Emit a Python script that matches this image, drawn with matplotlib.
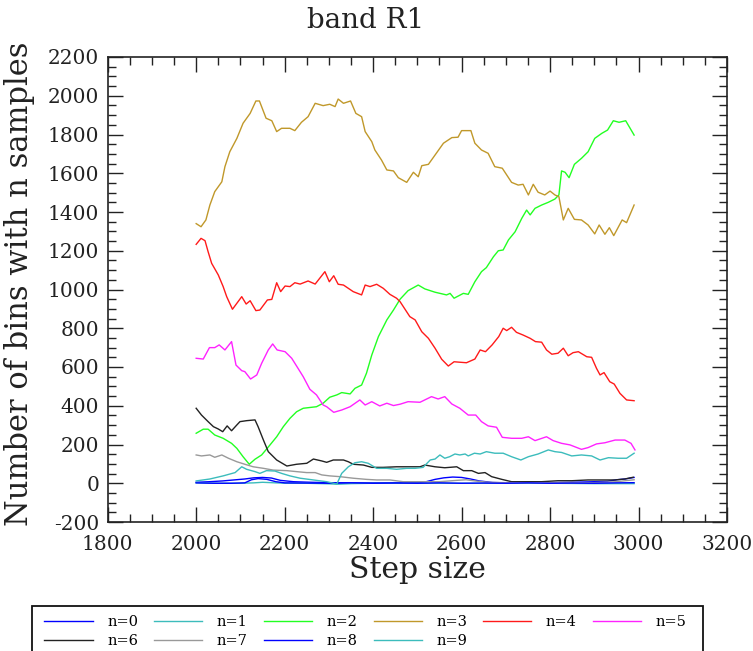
import matplotlib
matplotlib.use('Agg')
import matplotlib.pyplot as plt
from matplotlib.patches import Rectangle
from matplotlib.ticker import MultipleLocator

### Data

x_n0 = [2000, 2030, 2060, 2090, 2110, 2130, 2150, 2170, 2190, 2220, 2260, 2300, 2350, 2400, 2450,
        2500, 2520, 2540, 2560, 2580, 2600, 2620, 2640, 2670, 2700, 2750, 2800, 2850, 2900, 2930,
        2950, 2970, 2990]
y_n0 = [5, 8, 12, 18, 22, 28, 30, 27, 15, 8, 5, 3, 2, 2, 3,
        3, 8, 20, 28, 32, 30, 22, 12, 4, 2, 2, 3, 5, 8, 10,
        18, 22, 30]

x_n1 = [2000, 2050, 2100, 2130, 2150, 2170, 2200, 2250, 2300, 2320, 2350, 2400, 2450, 2500,
        2600, 2700, 2800, 2900, 2990]
y_n1 = [2, 0, 0, 2, 5, 3, 0, 0, -3, -5, -2, 0, 0, 0,
        0, 0, 0, -2, -2]

x_n2 = [2000, 2016, 2027, 2042, 2061, 2080, 2092, 2106, 2120, 2133, 2148, 2167, 2182, 2197, 2212,
        2227, 2242, 2272, 2287, 2302, 2318, 2329, 2348, 2359, 2374, 2385, 2397, 2412, 2431, 2446,
        2461, 2479, 2502, 2517, 2540, 2566, 2574, 2583, 2604, 2615, 2630, 2645, 2656, 2672, 2683,
        2694, 2706, 2721, 2736, 2747, 2755, 2766, 2781, 2796, 2811, 2820, 2826, 2834, 2843, 2855,
        2871, 2886, 2901, 2917, 2930, 2943, 2956, 2971, 2990]
y_n2 = [258, 279, 279, 249, 232, 206, 180, 137, 98, 124, 146, 198, 240, 292, 335,
        369, 387, 395, 413, 444, 456, 468, 461, 490, 507, 568, 662, 757, 843, 894,
        950, 994, 1023, 1003, 986, 972, 980, 955, 980, 975, 1040, 1092, 1113, 1169, 1200,
        1204, 1256, 1298, 1367, 1410, 1385, 1419, 1436, 1450, 1467, 1488, 1612, 1605, 1577, 1646,
        1677, 1711, 1780, 1806, 1823, 1871, 1863, 1871, 1797]

x_n3 = [2000, 2011, 2022, 2031, 2042, 2058, 2065, 2076, 2092, 2106, 2122, 2135, 2143, 2158, 2171,
        2182, 2193, 2212, 2223, 2238, 2253, 2269, 2287, 2302, 2314, 2321, 2333, 2349, 2361, 2374,
        2382, 2397, 2404, 2419, 2431, 2446, 2457, 2476, 2491, 2502, 2510, 2525, 2540, 2559, 2578,
        2592, 2600, 2621, 2630, 2645, 2660, 2675, 2692, 2713, 2728, 2739, 2751, 2762, 2773, 2788,
        2800, 2811, 2820, 2830, 2841, 2855, 2871, 2886, 2901, 2911, 2924, 2934, 2944, 2963, 2973,
        2990]
y_n3 = [1340, 1324, 1359, 1436, 1505, 1556, 1634, 1711, 1780, 1858, 1909, 1973, 1973, 1884, 1871,
        1815, 1832, 1832, 1820, 1863, 1892, 1961, 1949, 1956, 1944, 1983, 1961, 1973, 1909, 1892,
        1815, 1763, 1720, 1668, 1617, 1612, 1577, 1553, 1605, 1582, 1639, 1646, 1694, 1755, 1784,
        1786, 1820, 1820, 1755, 1720, 1703, 1634, 1626, 1553, 1539, 1543, 1488, 1543, 1502, 1488,
        1508, 1488, 1479, 1359, 1419, 1362, 1359, 1333, 1287, 1333, 1285, 1319, 1278, 1359, 1345,
        1436]

x_n4 = [2000, 2011, 2020, 2027, 2035, 2050, 2061, 2069, 2082, 2103, 2113, 2122, 2135, 2144, 2161,
        2171, 2182, 2191, 2201, 2212, 2223, 2235, 2253, 2269, 2291, 2301, 2311, 2321, 2333, 2355,
        2374, 2382, 2393, 2408, 2423, 2438, 2453, 2461, 2483, 2495, 2510, 2525, 2540, 2555, 2570,
        2583, 2611, 2630, 2642, 2654, 2669, 2684, 2694, 2702, 2713, 2724, 2739, 2755, 2767, 2781,
        2792, 2804, 2818, 2830, 2841, 2852, 2864, 2883, 2894, 2905, 2913, 2922, 2935, 2945, 2958,
        2973, 2990]
y_n4 = [1233, 1264, 1252, 1195, 1135, 1075, 1015, 963, 898, 963, 925, 942, 891, 894, 946,
        949, 1035, 989, 1018, 1015, 1035, 1028, 1044, 1028, 1092, 1040, 1071, 1027, 1023, 989,
        972, 1023, 1015, 1027, 1006, 975, 955, 937, 860, 843, 782, 748, 697, 640, 605,
        627, 622, 641, 688, 679, 714, 757, 800, 788, 805, 779, 765, 748, 731, 728,
        688, 666, 671, 697, 658, 674, 679, 653, 650, 593, 559, 571, 524, 512, 464,
        430, 426]

x_n5 = [2000, 2016, 2030, 2042, 2052, 2065, 2080, 2090, 2103, 2110, 2123, 2137, 2148, 2163, 2173,
        2183, 2201, 2216, 2227, 2242, 2257, 2272, 2287, 2295, 2311, 2329, 2348, 2370, 2382, 2397,
        2415, 2431, 2446, 2461, 2479, 2506, 2532, 2547, 2562, 2578, 2596, 2615, 2632, 2645, 2660,
        2679, 2692, 2713, 2736, 2751, 2766, 2792, 2807, 2826, 2845, 2871, 2886, 2905, 2924, 2947,
        2969, 2983, 2992]
y_n5 = [645, 641, 700, 700, 714, 688, 731, 610, 581, 576, 538, 559, 619, 688, 719,
        688, 679, 645, 605, 550, 485, 456, 404, 395, 366, 378, 395, 430, 404, 421,
        399, 413, 401, 408, 421, 418, 447, 435, 447, 409, 387, 352, 352, 318, 296,
        289, 237, 232, 232, 240, 220, 240, 220, 206, 198, 175, 184, 203, 209, 223,
        223, 206, 172]

x_n6 = [2000, 2012, 2027, 2039, 2050, 2060, 2070, 2080, 2092, 2099, 2114, 2133, 2140, 2152, 2163,
        2182, 2205, 2227, 2250, 2265, 2284, 2295, 2310, 2333, 2344, 2355, 2378, 2397, 2423, 2453,
        2483, 2506, 2517, 2540, 2562, 2589, 2604, 2623, 2638, 2653, 2668, 2691, 2713, 2736, 2781,
        2818, 2849, 2886, 2917, 2947, 2969, 2988]
y_n6 = [387, 352, 318, 292, 280, 266, 296, 271, 301, 318, 323, 327, 292, 223, 163,
        120, 89, 98, 103, 125, 115, 108, 120, 120, 111, 98, 94, 82, 82, 85,
        85, 85, 94, 85, 80, 85, 65, 65, 51, 55, 34, 20, 8, 8, 8,
        13, 13, 17, 17, 17, 22, 31]

x_n7 = [2000, 2012, 2031, 2042, 2058, 2073, 2092, 2110, 2129, 2152, 2174, 2205, 2227, 2250, 2269,
        2284, 2302, 2325, 2355, 2385, 2408, 2438, 2468, 2506, 2550, 2590, 2610, 2630, 2660, 2700,
        2800, 2900, 2950, 2990]
y_n7 = [146, 141, 146, 134, 146, 129, 111, 98, 85, 77, 68, 65, 60, 55, 55,
        43, 38, 34, 26, 20, 17, 17, 8, 8, 8, 15, 18, 12, 5, 3,
        3, 3, 8, 18]

x_n8 = [2000, 2040, 2080, 2110, 2125, 2140, 2160, 2180, 2200, 2250, 2300, 2350, 2400, 2450, 2500,
        2550, 2600, 2650, 2700, 2750, 2800, 2850, 2900, 2950, 2990]
y_n8 = [2, 0, 0, 2, 18, 24, 20, 8, 2, 1, 0, 2, 0, 1, 0,
        2, 0, 1, 0, 2, 0, 1, 0, 2, 3]

x_n9 = [2000, 2031, 2061, 2088, 2103, 2114, 2133, 2144, 2159, 2178, 2193, 2212, 2235, 2265, 2295,
        2318, 2329, 2344, 2359, 2374, 2389, 2408, 2431, 2453, 2476, 2495, 2513, 2529, 2540, 2551,
        2562, 2573, 2585, 2596, 2608, 2615, 2629, 2642, 2656, 2675, 2694, 2713, 2734, 2751, 2773,
        2796, 2811, 2826, 2849, 2871, 2894, 2913, 2932, 2954, 2973, 2990]
y_n9 = [12, 22, 38, 55, 85, 72, 60, 51, 65, 63, 51, 38, 26, 17, 8,
        -4, 51, 85, 106, 111, 103, 77, 77, 72, 77, 77, 82, 120, 125, 146,
        129, 137, 151, 146, 151, 141, 155, 151, 163, 155, 155, 137, 120, 137, 151,
        172, 163, 159, 141, 146, 141, 120, 132, 129, 129, 155]

labels = ['n=0', 'n=1', 'n=2', 'n=3', 'n=4', 'n=5', 'n=6', 'n=7', 'n=8', 'n=9']

### Plot

plt.rcParams['font.family'] = ['DejaVu Serif']
plt.rcParams['axes.unicode_minus'] = False

colors = ['#0000ff', '#3cbcbc', '#22ff22', '#c0982a', '#ff1a1a',
          '#ff22ff', '#222222', '#999999', '#0000ff', '#3cbcbc']

series = [(x_n0, y_n0), (x_n1, y_n1), (x_n2, y_n2), (x_n3, y_n3), (x_n4, y_n4),
          (x_n5, y_n5), (x_n6, y_n6), (x_n7, y_n7), (x_n8, y_n8), (x_n9, y_n9)]

fig = plt.figure(figsize=(7.53, 6.51), dpi=100)
ax = fig.add_axes([107.7 / 753, 1 - 522 / 651, (727 - 107.7) / 753, (522 - 57) / 651])

lines = []
for (xs, ys), col, lab in zip(series, colors, labels):
    ln, = ax.plot(xs, ys, color=col, linewidth=1.0, label=lab)
    lines.append(ln)

ax.set_xlim(1800, 3200)
ax.set_ylim(-200, 2200)
ax.xaxis.set_major_locator(MultipleLocator(200))
ax.xaxis.set_minor_locator(MultipleLocator(50))
ax.yaxis.set_major_locator(MultipleLocator(200))
ax.yaxis.set_minor_locator(MultipleLocator(50))

edge = '#222222'
for sp in ax.spines.values():
    sp.set_color(edge)
    sp.set_linewidth(1.2)
ax.tick_params(which='both', direction='in', top=True, right=True, color=edge, width=1.0,
               labelsize=14.5, labelcolor=edge)
ax.tick_params(which='major', length=11)
ax.tick_params(which='minor', length=5.5)
ax.tick_params(axis='x', which='major', pad=9)
ax.tick_params(axis='y', which='major', pad=6)

ax.set_xlabel('Step size', fontsize=21.5, color=edge, labelpad=2)
ax.set_ylabel('Number of bins with n samples', fontsize=22, color=edge, labelpad=2)
ax.yaxis.set_label_coords(-0.118, 0.512)
fig.text(366 / 753, 1 - 21 / 651, 'band R1', fontsize=20, color=edge, ha='center', va='center')

# legend below the plot, filled row by row (n=0..5, then n=6..9)
order = [0, 6, 1, 7, 2, 8, 3, 9, 4, 5]
fig.legend(handles=[lines[i] for i in order], labels=[labels[i] for i in order],
           loc='upper left', ncol=6,
           bbox_to_anchor=(40 / 753, 1 - 611 / 651), frameon=False, fontsize=10.5,
           handlelength=3.3, handletextpad=1.0, columnspacing=1.1,
           labelspacing=0.35, borderpad=0.3, borderaxespad=0)
fig.patches.append(Rectangle((32 / 753, -0.05), (703 - 32) / 753, (651 - 606) / 651 + 0.05,
                             transform=fig.transFigure, fill=False, edgecolor='#111111',
                             linewidth=1.3))

fig.savefig('out.png', dpi=100)
